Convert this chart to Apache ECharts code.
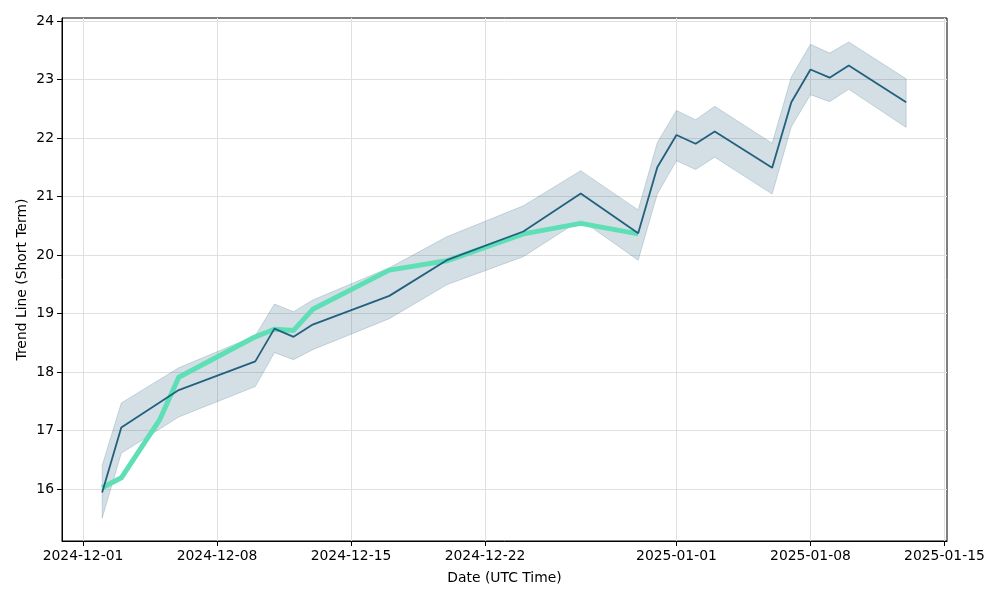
<!DOCTYPE html>
<html>
<head>
<meta charset="utf-8">
<script src="https://cdn.jsdelivr.net/npm/echarts@6/dist/echarts.min.js"></script>
<style>
html,body{margin:0;padding:0;background:#fff;}
#chart{width:1000px;height:600px;}
</style>
</head>
<body>
<div id="chart"></div>
<script>
// ---- data ----
const dates = ['2024-12-02','2024-12-03','2024-12-06','2024-12-10','2024-12-11','2024-12-12','2024-12-13','2024-12-17','2024-12-20','2024-12-24','2024-12-27','2024-12-30','2024-12-31','2025-01-01','2025-01-02','2025-01-03','2025-01-06','2025-01-07','2025-01-08','2025-01-09','2025-01-10','2025-01-13'];
const trend = [15.94,17.05,17.69,18.18,18.74,18.60,18.81,19.30,19.91,20.40,21.05,20.37,21.50,22.05,21.90,22.11,21.49,22.61,23.17,23.03,23.24,22.61];
const upper = [16.40,17.47,18.07,18.62,19.16,19.03,19.23,19.78,20.31,20.84,21.44,20.77,21.92,22.47,22.31,22.54,21.91,23.04,23.60,23.45,23.64,23.01];
const lower = [15.50,16.61,17.23,17.75,18.33,18.21,18.38,18.91,19.49,19.97,20.60,19.91,21.04,21.61,21.46,21.67,21.04,22.19,22.74,22.62,22.83,22.18];

const greenDates = ['2024-12-02','2024-12-03','2024-12-05','2024-12-06','2024-12-10','2024-12-11','2024-12-12','2024-12-13','2024-12-17','2024-12-20','2024-12-24','2024-12-27','2024-12-30'];
const greenVals = [16.02,16.19,17.18,17.91,18.60,18.73,18.71,19.07,19.74,19.90,20.36,20.54,20.36];

const xTicks = ['2024-12-01','2024-12-08','2024-12-15','2024-12-22','2025-01-01','2025-01-08','2025-01-15'];
const yTicks = [16,17,18,19,20,21,22,23,24];
const xMin = '2024-11-29T21:40:00Z';
const xMax = '2025-01-15T03:10:00Z';
const yMin = 15.11;
const yMax = 24.05;

// ---- helpers ----
const ts = d => Date.parse(d.length === 10 ? d + 'T00:00:00Z' : d);
const pairs = (ds, vs) => ds.map((d, i) => [ts(d), vs[i]]);
const fmtDate = v => new Date(v).toISOString().slice(0, 10);

const font = 'DejaVu Sans';
const band = 'rgba(34,96,126,0.2)';
const bandData = dates.map((d, i) => [ts(d), lower[i], upper[i]]);

function renderBand(params, api) {
  if (params.dataIndex !== 0) return null;
  const top = bandData.map(r => api.coord([r[0], r[2]]));
  const bot = bandData.map(r => api.coord([r[0], r[1]])).reverse();
  return {
    type: 'polygon',
    shape: {points: top.concat(bot)},
    style: {fill: band, stroke: band, lineWidth: 1}
  };
}

const chart = echarts.init(document.getElementById('chart'), null, {renderer: 'canvas'});
chart.setOption({
  animation: false,
  backgroundColor: '#ffffff',
  grid: {
    left: 62, right: 53, top: 18, bottom: 59,
    show: true, borderColor: '#000', borderWidth: 1, backgroundColor: 'transparent'
  },
  xAxis: {
    type: 'value',
    min: ts(xMin), max: ts(xMax),
    name: 'Date (UTC Time)',
    nameLocation: 'middle',
    nameGap: 30,
    nameTextStyle: {fontFamily: font, fontSize: 13.9, color: '#000'},
    axisLine: {show: true, lineStyle: {color: '#000', width: 1}},
    axisTick: {show: true, length: 5, lineStyle: {color: '#000'}, customValues: xTicks.map(ts)},
    axisLabel: {
      customValues: xTicks.map(ts),
      fontFamily: font, fontSize: 13.9, color: '#000', margin: 8,
      hideOverlap: false,
      showMinLabel: true, showMaxLabel: true,
      formatter: v => fmtDate(v)
    },
    splitLine: {show: true, lineStyle: {color: '#e0e0e0', width: 1}}
  },
  yAxis: {
    type: 'value',
    min: yMin, max: yMax,
    name: 'Trend Line (Short Term)',
    nameLocation: 'middle',
    nameGap: 33,
    nameMoveOverlap: false,
    nameTextStyle: {fontFamily: font, fontSize: 13.9, color: '#000'},
    axisLine: {show: true, lineStyle: {color: '#000', width: 1}},
    axisTick: {show: true, length: 5, lineStyle: {color: '#000'}, customValues: yTicks},
    axisLabel: {
      customValues: yTicks,
      fontFamily: font, fontSize: 13.9, color: '#000', margin: 8,
      formatter: v => String(Math.round(v))
    },
    splitLine: {show: true, lineStyle: {color: '#e0e0e0', width: 1}}
  },
  series: [
    {
      name: 'band', type: 'custom', z: 2,
      renderItem: renderBand,
      data: bandData,
      encode: {x: 0, y: [1, 2]},
      clip: true
    },
    {
      name: 'green', type: 'line', symbol: 'none', z: 3,
      data: pairs(greenDates, greenVals),
      lineStyle: {color: '#5EDFB6', width: 5, join: 'round'}
    },
    {
      name: 'trend', type: 'line', symbol: 'none', z: 4,
      data: pairs(dates, trend),
      lineStyle: {color: '#22607E', width: 1.8}
    }
  ]
});
</script>
</body>
</html>
